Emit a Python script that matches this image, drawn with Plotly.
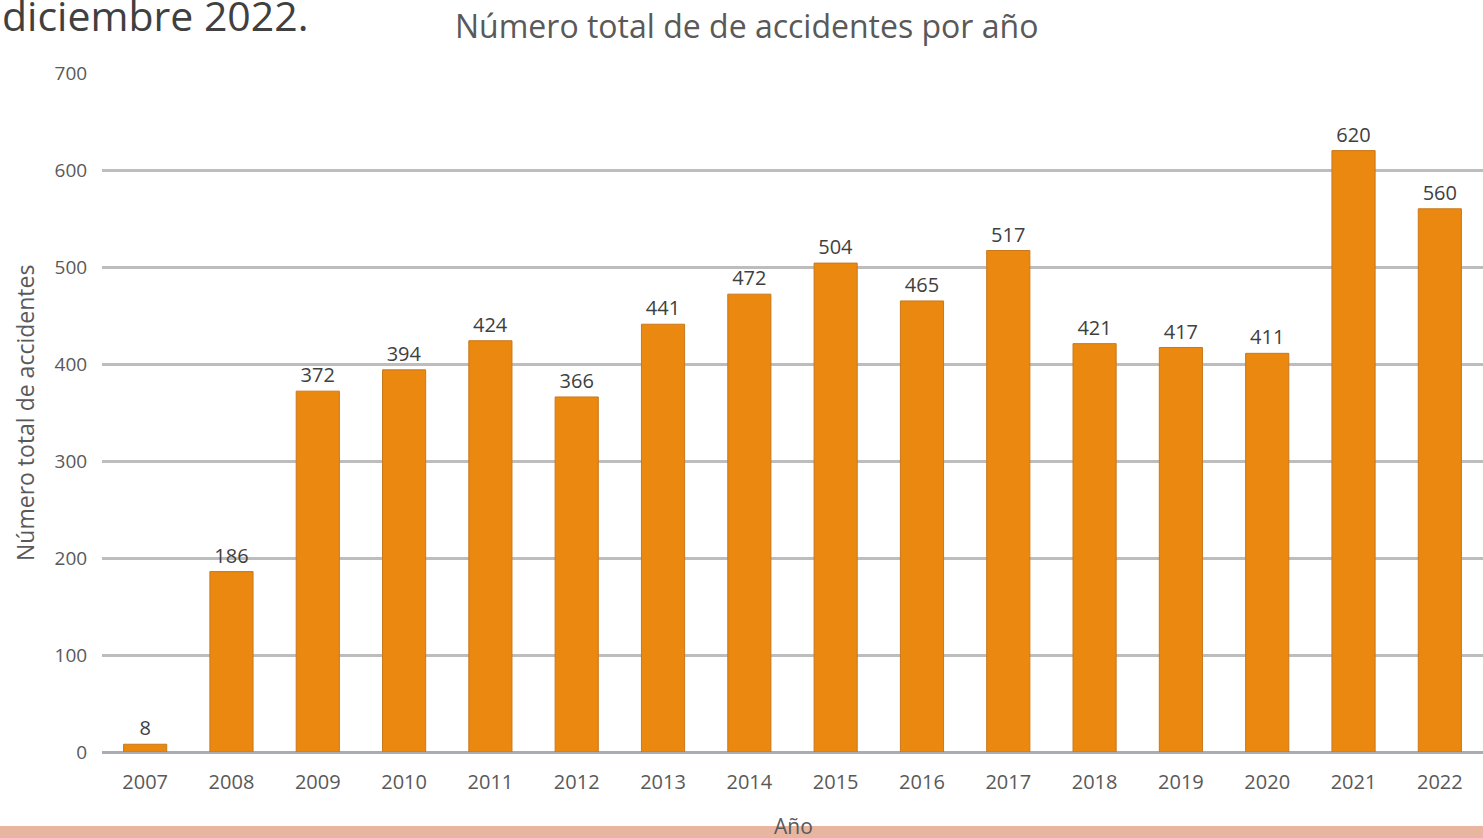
import plotly.graph_objects as go

years = ["2007", "2008", "2009", "2010", "2011", "2012", "2013", "2014",
         "2015", "2016", "2017", "2018", "2019", "2020", "2021", "2022"]
accidents = [8, 186, 372, 394, 424, 366, 441, 472, 504, 465, 517, 421, 417, 411, 620, 560]
y_ticks = [0, 100, 200, 300, 400, 500, 600, 700]

W, H = 1483, 838
L, R, T, B = 102, 0, 73, 86
pw = W - L - R
ph = H - T - B

def px_x(x):
    return (x - L) / pw

def px_y(y):
    return (H - B - y) / ph

fig = go.Figure()
fig.add_trace(go.Bar(
    x=years, y=accidents,
    width=0.5,
    marker=dict(color="#EA880F", line=dict(color="#C9781C", width=1)),
    text=[str(v) for v in accidents],
    textposition="outside",
    textfont=dict(family="Open Sans", size=20, color="#404040"),
    cliponaxis=False,
))

fig.update_layout(
    width=W, height=H,
    margin=dict(l=L, r=R, t=T, b=B),
    paper_bgcolor="white", plot_bgcolor="white",
    showlegend=False,
    bargap=0.5,
    xaxis=dict(
        type="category", range=[-0.5, 15.5],
        showgrid=False, showline=False, zeroline=False,
        ticks="outside", ticklen=12, tickcolor="rgba(0,0,0,0)",
        tickfont=dict(family="Open Sans", size=20, color="#595959"),
    ),
    yaxis=dict(
        range=[0, 700], tickvals=y_ticks,
        showgrid=True, gridcolor="#BDBDBD", gridwidth=2.5,
        zeroline=True, zerolinecolor="#A9ACB2", zerolinewidth=2.5,
        showline=False,
        ticks="outside", ticklen=10, tickcolor="rgba(0,0,0,0)",
        tickfont=dict(family="Open Sans", size=19, color="#595959"),
    ),
    shapes=[dict(
        type="rect", xref="paper", yref="paper",
        x0=px_x(-5), x1=px_x(W + 5), y0=px_y(H + 5), y1=px_y(826),
        fillcolor="#E8B5A0", line=dict(width=0), layer="above",
    )],
    annotations=[
        dict(text="diciembre 2022.", xref="paper", yref="paper",
             x=px_x(0), y=px_y(15), xanchor="left", yanchor="middle",
             showarrow=False,
             font=dict(family="Open Sans", size=41, color="#404040")),
        dict(text="Número total de de accidentes por año", xref="paper", yref="paper",
             x=px_x(746), y=px_y(25), xanchor="center", yanchor="middle",
             showarrow=False,
             font=dict(family="Open Sans", size=32, color="#595959")),
        dict(text="Número total de accidentes", xref="paper", yref="paper",
             x=px_x(25), y=px_y(413), xanchor="center", yanchor="middle",
             textangle=-90, showarrow=False,
             font=dict(family="Open Sans", size=23, color="#595959")),
        dict(text="Año", xref="paper", yref="paper",
             x=px_x(793), y=px_y(826), xanchor="center", yanchor="middle",
             showarrow=False,
             font=dict(family="Open Sans", size=21, color="#595959")),
    ],
)

fig.write_html("out.html", config={"displayModeBar": False},
               post_script="document.body.style.margin='0';document.body.style.overflow='hidden';")
